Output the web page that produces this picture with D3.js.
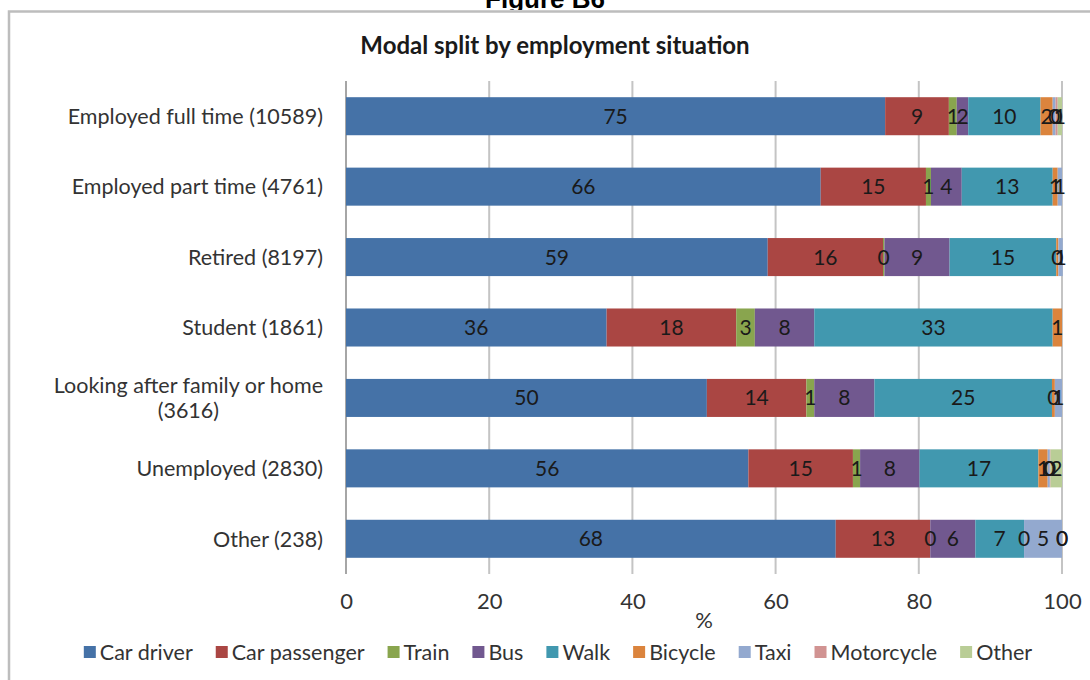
<!DOCTYPE html>
<html>
<head>
<meta charset="utf-8">
<script src="https://cdn.jsdelivr.net/npm/d3@7"></script>
<style>
  body { margin: 0; background: #fff; }
  svg text { font-family: Lato, "Open Sans", sans-serif; }
</style>
</head>
<body>
<svg id="chart"></svg>
<script>
var width = 1090,
    height = 680

// categories, top to bottom
var categories = ["Employed full time (10589)", "Employed part time (4761)", "Retired (8197)",
    "Student (1861)", "Looking after family or home\n(3616)", "Unemployed (2830)", "Other (238)"]
var modes = ["Car driver", "Car passenger", "Train", "Bus", "Walk", "Bicycle", "Taxi", "Motorcycle", "Other"]
var colors = ["#4572A7", "#AA4643", "#89A54E", "#71588F", "#4198AF", "#DB843D", "#93A9CF", "#D19392", "#B9CD96"]

// % of trips, one array per mode (null = no value)
var carDriver = [75.3, 66.3, 58.9, 36.4, 50.4, 56.2, 68.4]
var carPassenger = [8.9, 14.7, 16.1, 18.1, 13.9, 14.6, 13.2]
var train = [1.1, 0.7, 0.2, 2.6, 1.1, 1.0, 0]
var bus = [1.6, 4.3, 9.1, 8.3, 8.4, 8.3, 6.3]
var walk = [10.1, 12.7, 14.9, 33.3, 24.8, 16.6, 6.8]
var bicycle = [1.7, 0.7, 0.3, 1.3, 0.4, 1.3, 0]
var taxi = [0.4, 0.6, 0.6, null, 1.0, 0.3, 5.3]
var motorcycle = [0.3, null, null, null, null, 0.1, 0]
var otherMode = [0.6, null, null, null, null, 1.6, 0]
var ticks = [0, 20, 40, 60, 80, 100]

var series = [carDriver, carPassenger, train, bus, walk, bicycle, taxi, motorcycle, otherMode]
var table = categories.map(function (c, i) {
    var row = { cat: c }
    modes.forEach(function (m, j) { row[m] = series[j][i] })
    return row
})

var svg = d3.select("#chart").attr("width", width).attr("height", height)

// frame of the figure
svg.append("text")
    .attr("x", 545).attr("y", 8)
    .attr("text-anchor", "middle")
    .style("font-family", "'Liberation Sans', Arial, sans-serif")
    .style("font-weight", "bold").style("font-size", "26px")
    .attr("fill", "#000")
    .text("Figure B6")
svg.append("rect").attr("x", 0).attr("y", 10).attr("width", width).attr("height", 14).attr("fill", "#fff")
svg.append("path")
    .attr("d", "M9,680 V11.5 H1090")
    .attr("fill", "none").attr("stroke", "#bdbdbd").attr("stroke-width", 2.5)

svg.append("text")
    .attr("x", 555).attr("y", 54)
    .attr("text-anchor", "middle")
    .style("font-weight", "bold").style("font-size", "24px")
    .attr("fill", "#1a1a1a")
    .text("Modal split by employment situation")

var x = d3.scaleLinear().domain([0, 100]).range([346, 1062])
var y = d3.scaleBand().domain(categories).range([81, 574])
    .paddingInner(0.46).paddingOuter(0.23)

// gridlines
svg.append("g").selectAll("line")
    .data(ticks)
    .enter().append("line")
    .attr("x1", function (d) { return x(d) }).attr("x2", function (d) { return x(d) })
    .attr("y1", 81).attr("y2", 574)
    .attr("stroke", function (d) { return d == 0 ? "#a6a6a6" : "#c4c4c4" })
    .attr("stroke-width", 2)

// tick labels
var xAxis = svg.append("g")
    .attr("transform", "translate(0,593)")
    .call(d3.axisBottom(x).tickValues(ticks).tickSize(0).tickPadding(0))
xAxis.select(".domain").remove()
xAxis.selectAll("text")
    .attr("dy", "0.71em")
    .style("font-family", "Lato, sans-serif").style("font-size", "22px")
    .attr("fill", "#333")

svg.append("text")
    .attr("x", (x(0) + x(100)) / 2).attr("y", 628)
    .attr("text-anchor", "middle")
    .style("font-size", "22px").attr("fill", "#333")
    .text("%")

// stacked bars
var stack = d3.stack().keys(modes).value(function (d, k) { return d[k] || 0 })
var stacked = stack(table)
var layers = svg.append("g").selectAll("g")
    .data(stacked)
    .enter().append("g")
    .attr("fill", function (d, i) { return colors[i] })

layers.selectAll("rect")
    .data(function (d) { return d })
    .enter().append("rect")
    .attr("x", function (d) { return x(d[0]) })
    .attr("width", function (d) { return x(d[1]) - x(d[0]) })
    .attr("y", function (d) { return y(d.data.cat) })
    .attr("height", y.bandwidth())

// data labels, drawn above every bar
var fmt = d3.format(".0f")
svg.append("g").selectAll("g")
    .data(stacked)
    .enter().append("g")
    .selectAll("text")
    .data(function (d) {
        return d.map(function (p) { return { p: p, v: p.data[d.key] } })
            .filter(function (o) { return o.v != null })
    })
    .enter().append("text")
    .attr("x", function (o) { return x((o.p[0] + o.p[1]) / 2) })
    .attr("y", function (o) { return y(o.p.data.cat) + y.bandwidth() / 2 })
    .attr("dy", "0.36em")
    .attr("text-anchor", "middle")
    .style("font-size", "21px")
    .attr("fill", "#1a1a1a")
    .text(function (o) { return fmt(o.v) })

// category labels
var catLabels = svg.append("g").selectAll("text")
    .data(categories)
    .enter().append("text")
    .style("font-size", "21.5px")
    .attr("fill", "#333")
catLabels.each(function (c) {
    var t = d3.select(this)
    var lines = c.split("\n")
    var cy = y(c) + y.bandwidth() / 2 - (lines.length - 1) * 12.5
    lines.forEach(function (l, i) {
        t.append("tspan").attr("y", cy + i * 25).attr("dy", "0.36em").text(l)
    })
    if (lines.length == 1) {
        t.attr("text-anchor", "end").selectAll("tspan").attr("x", 323)
    } else {
        var w = 0
        t.selectAll("tspan").each(function () { w = Math.max(w, this.getComputedTextLength()) })
        t.attr("text-anchor", "middle").selectAll("tspan").attr("x", 323 - w / 2)
    }
})

// legend
var legend = svg.append("g")
var lx = 0
modes.forEach(function (m, i) {
    var g = legend.append("g").attr("transform", "translate(" + lx + ",0)")
    g.append("rect").attr("x", 0).attr("y", -6).attr("width", 12).attr("height", 12).attr("fill", colors[i])
    var t = g.append("text").attr("x", 16).attr("y", 0).attr("dy", "0.36em")
        .style("font-size", "21.5px").attr("fill", "#333").text(m)
    lx += 16 + t.node().getComputedTextLength() + 23
})
var lw = lx - 23
legend.attr("transform", "translate(" + (558 - lw / 2) + ",652)")
</script>
</body>
</html>
